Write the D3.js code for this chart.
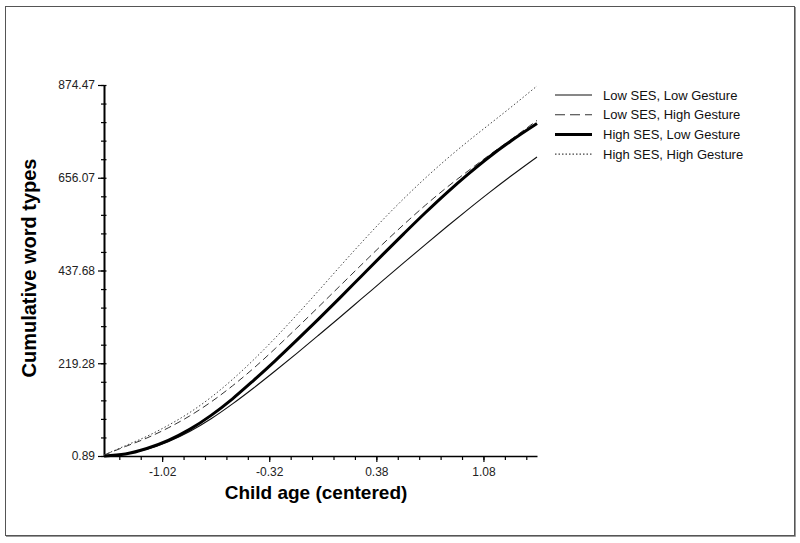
<!DOCTYPE html>
<html>
<head>
<meta charset="utf-8">
<script src="https://cdn.jsdelivr.net/npm/d3@7"></script>
<style>
  body { margin: 0; background: #fff; }
  text { font-family: "Liberation Sans", Arial, sans-serif; }
</style>
</head>
<body>
<div id="container"></div>
<script>
/* Constants and globals */
const width = 800,
    height = 543,
    margin = {top: 85, left: 104, bottom: 87, right: 263};

/* DATA */
// child age (centered) where each curve was read
const ages = [-1.40, -1.26, -1.12, -0.98, -0.84, -0.70, -0.56, -0.42, -0.28, -0.14, 0.00,
    0.14, 0.28, 0.42, 0.56, 0.70, 0.84, 0.98, 1.12, 1.26, 1.43];

// cumulative word types, one list per group
const lowSesLowGesture = [0.9, 5.6, 16.6, 34.6, 58.6, 88.6, 123.6, 161.6, 201.6, 242.6, 284.6,
    327.1, 370.1, 413.1, 456.1, 498.6, 540.6, 581.6, 621.6, 660.1, 705.0];
const lowSesHighGesture = [3.2, 23.2, 43.2, 67.2, 95.2, 128.2, 166.2, 208.2, 254.2, 302.2, 351.2,
    400.7, 450.2, 499.2, 546.2, 591.2, 633.2, 672.2, 710.0, 746.0, 791.0];
const highSesLowGesture = [0.9, 5.6, 18.6, 37.6, 63.6, 96.6, 135.6, 179.6, 225.6, 273.6, 322.6,
    372.6, 423.6, 474.6, 524.6, 573.6, 620.6, 664.6, 705.6, 742.6, 783.6];
const highSesHighGesture = [3.2, 25.2, 47.2, 73.2, 103.2, 139.2, 181.2, 228.2, 279.2, 333.2, 389.2,
    446.2, 502.2, 556.2, 607.2, 655.2, 700.2, 742.2, 782.2, 822.2, 872.2];

// tick labels
const xTickLabels = [-1.02, -0.32, 0.38, 1.08];
const yTickLabels = [0.89, 219.28, 437.68, 656.07, 874.47];

const seriesNames = ["Low SES, Low Gesture", "Low SES, High Gesture", "High SES, Low Gesture", "High SES, High Gesture"];

// line look per group
const styles = [
    {width: 1.1, dash: null, color: "#111"},
    {width: 1, dash: "7,4", color: "#333", legendDash: "10,5"},
    {width: 3, dash: null, color: "#000"},
    {width: 1, dash: "1.5,2.2", color: "#444", legendDash: "1.5,2"}
];

const series = [lowSesLowGesture, lowSesHighGesture, highSesLowGesture, highSesHighGesture]
    .map((vals, i) => ({name: seriesNames[i], style: styles[i],
        points: ages.map((a, j) => ({age: a, words: vals[j]}))}));

/* SCALES */
const xScale = d3.scaleLinear()
    .domain([-1.40, 1.43])
    .range([margin.left, width - margin.right]);

const yScale = d3.scaleLinear()
    .domain([0.89, 874.47])
    .range([456, margin.top]);

/* SVG */
const svg = d3.select("#container")
    .append("svg")
    .attr("width", width)
    .attr("height", height);

// outer frame, with a lighter shadow on bottom/right
svg.append("rect")
    .attr("x", 5.5).attr("y", 6.5)
    .attr("width", 789).attr("height", 529)
    .attr("fill", "none")
    .attr("stroke", "#555")
    .attr("stroke-width", 1);
svg.append("path")
    .attr("d", "M795.5,7 V536.5 H6")
    .attr("fill", "none")
    .attr("stroke", "#999")
    .attr("stroke-width", 1);

const x0 = yScale(0.89);

/* AXES */
// minor ticks along x, every 0.14
const xMinor = d3.range(-1.30, 1.40, 0.14);
svg.append("g")
    .attr("transform", `translate(0,${x0})`)
    .call(d3.axisBottom(xScale).tickValues(xMinor).tickSize(4).tickFormat(""))
    .call(g => g.select(".domain").remove())
    .call(g => g.selectAll("line").attr("stroke", "#000").attr("stroke-width", 1.2));

const xAxis = svg.append("g")
    .attr("transform", `translate(0,${x0})`)
    .call(d3.axisBottom(xScale).tickValues(xTickLabels).tickSize(6).tickSizeOuter(0)
        .tickFormat(d3.format(".2f")));
xAxis.select(".domain").attr("stroke", "#000").attr("stroke-width", 1.6);
xAxis.selectAll("line").attr("stroke", "#000").attr("stroke-width", 1.2);
xAxis.selectAll("text")
    .attr("font-size", 12)
    .attr("fill", "#222")
    .attr("dy", "0.95em")
    .text(d => d3.format(".2f")(d).replace("−", "-"));

// minor ticks along y, every 43.68
const yMinor = d3.range(0, 21).map(i => 0.89 + i * 43.679);
svg.append("g")
    .attr("transform", `translate(${margin.left},0)`)
    .call(d3.axisLeft(yScale).tickValues(yMinor).tickSize(3).tickFormat(""))
    .call(g => g.select(".domain").remove())
    .call(g => g.selectAll("line").attr("stroke", "#000").attr("stroke-width", 1.2).attr("x2", 2.5).attr("x1", -3));

const yAxis = svg.append("g")
    .attr("transform", `translate(${margin.left},0)`)
    .call(d3.axisLeft(yScale).tickValues(yTickLabels).tickSize(6).tickSizeOuter(0)
        .tickFormat(d3.format(".2f")));
yAxis.select(".domain").attr("stroke", "#000").attr("stroke-width", 2);
yAxis.selectAll("line").attr("stroke", "#000").attr("stroke-width", 1.2);
yAxis.selectAll("text")
    .attr("font-size", 12)
    .attr("fill", "#222")
    .attr("x", -9);

/* LINES */
const line = d3.line()
    .x(d => xScale(d.age))
    .y(d => yScale(d.words))
    .curve(d3.curveMonotoneX);

svg.selectAll(".curve")
    .data(series)
    .join("path")
    .attr("class", "curve")
    .attr("d", d => line(d.points))
    .attr("fill", "none")
    .attr("stroke", d => d.style.color)
    .attr("stroke-width", d => d.style.width)
    .attr("stroke-dasharray", d => d.style.dash)
    .attr("stroke-linejoin", "round");

/* AXIS TITLES */
svg.append("text")
    .attr("x", 316)
    .attr("y", 499)
    .attr("text-anchor", "middle")
    .attr("font-size", 19)
    .attr("font-weight", "bold")
    .attr("fill", "#000")
    .text("Child age (centered)");

svg.append("text")
    .attr("transform", "translate(36,268) rotate(-90)")
    .attr("text-anchor", "middle")
    .attr("font-size", 20)
    .attr("font-weight", "bold")
    .attr("fill", "#000")
    .text("Cumulative word types");

/* LEGEND */
const legend = svg.selectAll(".legend")
    .data(series)
    .join("g")
    .attr("class", "legend")
    .attr("transform", (d, i) => `translate(555,${95 + i * 19.7})`);

legend.append("line")
    .attr("x1", 0).attr("x2", 37)
    .attr("stroke", d => d.style.color)
    .attr("stroke-width", d => d.style.width === 3 ? 3 : 1.1)
    .attr("stroke-dasharray", d => d.style.legendDash || d.style.dash);

legend.append("text")
    .attr("x", 48)
    .attr("y", 4.5)
    .attr("font-size", 13)
    .attr("fill", "#111")
    .text(d => d.name);
</script>
</body>
</html>
